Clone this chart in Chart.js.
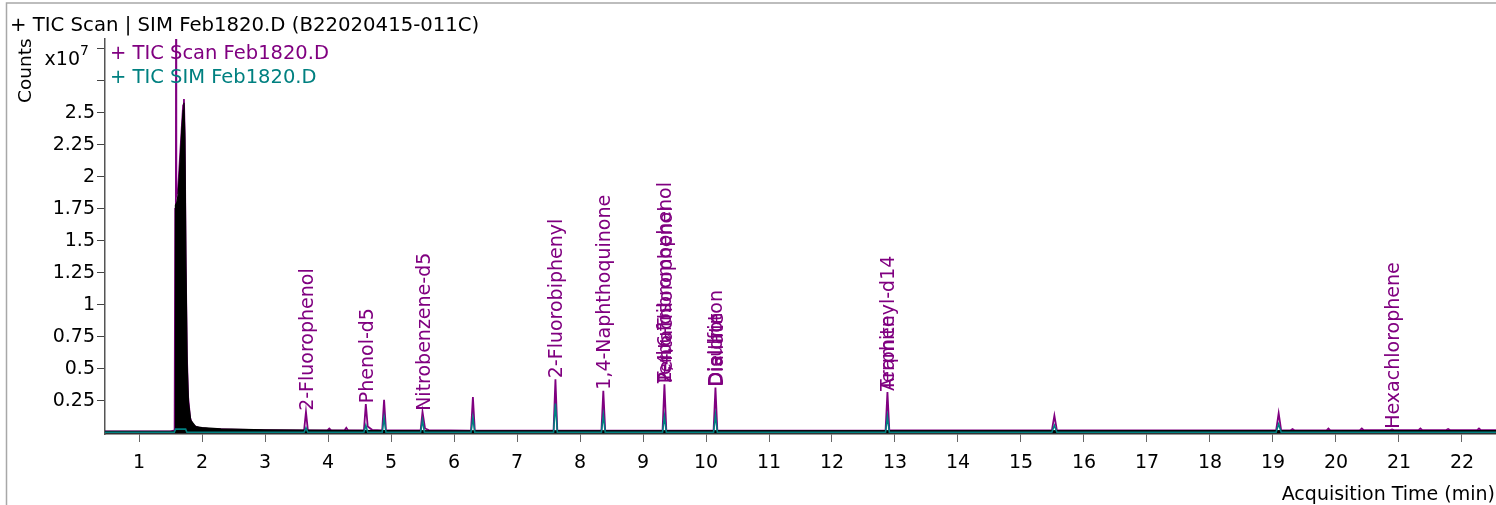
<!DOCTYPE html>
<html>
<head>
<meta charset="utf-8">
<script src="https://cdn.jsdelivr.net/npm/chart.js@4"></script>
<style>
  html, body { margin: 0; padding: 0; background: #fff; }
  canvas { display: block; }
</style>
</head>
<body>
<canvas id="tic" width="1496" height="505"></canvas>
<script>
/* ============================ Data ============================ */
// x10^7 counts vs acquisition time (min)
const xTicks = [1,2,3,4,5,6,7,8,9,10,11,12,13,14,15,16,17,18,19,20,21,22];
const yTicks = [0.25,0.5,0.75,1,1.25,1.5,1.75,2,2.25,2.5,2.75,3];

// TIC Scan (purple)
const scanTime = [
  0.46, 1.50, 1.565, 1.575, 1.585, 1.588, 1.592, 1.62, 1.65, 1.68, 1.70,
  1.713, 1.725, 1.74, 1.76, 1.78, 1.81, 1.85, 1.95, 2.1, 2.5, 3.0,
  3.62, 3.65, 3.68,  3.99, 4.02, 4.05,  4.26, 4.29, 4.32,
  4.57, 4.60, 4.63, 4.70,  4.86, 4.89, 4.92,  5.47, 5.50, 5.54, 5.60,
  6.27, 6.30, 6.33,  7.58, 7.61, 7.64,  8.34, 8.37, 8.40,
  9.31, 9.34, 9.37,  10.12, 10.15, 10.18,  12.85, 12.88, 12.91,
  15.49, 15.53, 15.57,  19.05, 19.09, 19.13,  19.28, 19.31, 19.34,
  19.85, 19.88, 19.91,  20.38, 20.41, 20.44,  20.86, 20.89, 20.92,
  21.31, 21.34, 21.37,  21.75, 21.78, 21.81,  22.24, 22.27, 22.30, 22.54
];
const scanCounts = [
  0.013, 0.013, 0.02, 1.75, 1.80, 3.5, 1.85, 1.90, 2.15, 2.40, 2.56,
  2.61, 2.35, 1.40, 0.60, 0.28, 0.12, 0.06, 0.04, 0.032, 0.026, 0.022,
  0.02, 0.165, 0.022,  0.02, 0.035, 0.02,  0.02, 0.04, 0.02,
  0.02, 0.225, 0.05, 0.025,  0.02, 0.26, 0.02,  0.02, 0.165, 0.035, 0.022,
  0.018, 0.28, 0.018,  0.018, 0.42, 0.018,  0.018, 0.33, 0.018,
  0.018, 0.38, 0.02,  0.018, 0.355, 0.02,  0.018, 0.32, 0.02,
  0.02, 0.135, 0.02,  0.02, 0.155, 0.02,  0.021, 0.03, 0.021,
  0.021, 0.035, 0.021,  0.022, 0.035, 0.022,  0.022, 0.028, 0.022,
  0.022, 0.035, 0.022,  0.022, 0.03, 0.022,  0.022, 0.035, 0.022, 0.022
];

// dense black overlay (solvent front)
const blackTime = [
  0.46, 1.56, 1.572, 1.578, 1.60, 1.62, 1.65, 1.68, 1.70, 1.713, 1.728,
  1.745, 1.765, 1.785, 1.82, 1.90, 2.0, 2.3, 3.0, 4.0, 5.0, 6.0, 22.54
];
const blackCounts = [
  0.012, 0.014, 0.02, 1.78, 1.80, 1.86, 2.10, 2.38, 2.52, 2.58, 2.30,
  1.30, 0.52, 0.24, 0.10, 0.05, 0.042, 0.032, 0.024, 0.021, 0.018, 0.017, 0.018
];

// TIC SIM (teal)
const simTime = [
  0.46, 1.56, 1.58, 1.74, 1.76,
  3.62, 3.65, 3.68,  4.57, 4.60, 4.63,  4.86, 4.89, 4.92,  5.47, 5.50, 5.53,
  6.27, 6.30, 6.33,  7.58, 7.61, 7.64,  8.34, 8.37, 8.40,  9.31, 9.34, 9.37,
  10.12, 10.15, 10.18,  12.85, 12.88, 12.91,  15.49, 15.53, 15.57,
  19.05, 19.09, 19.13,  22.54
];
const simCounts = [
  0.006, 0.006, 0.03, 0.03, 0.006,
  0.006, 0.04, 0.006,  0.006, 0.06, 0.006,  0.006, 0.12, 0.006,  0.006, 0.10, 0.006,
  0.006, 0.12, 0.006,  0.006, 0.23, 0.006,  0.006, 0.14, 0.006,  0.006, 0.13, 0.006,
  0.006, 0.14, 0.006,  0.006, 0.13, 0.006,  0.006, 0.06, 0.006,
  0.006, 0.07, 0.006,  0.006
];

// compound labels
const labelText = [
  "2-Fluorophenol", "Phenol-d5", "Nitrobenzene-d5", "2-Fluorobiphenyl",
  "1,4-Naphthoquinone", "2,4,6-Tribromophenol", "Pentachlorophenol", "Terbufos",
  "Dieldrin", "Diallate", "Disulfoton", "Terphenyl-d14", "Aramite", "Hexachlorophene"
];
const labelTime = [3.65, 4.60, 5.50, 7.61, 8.37, 9.34, 9.345, 9.335, 10.15, 10.155, 10.145, 12.88, 12.875, 20.89];
const labelHeight = [0.165, 0.225, 0.165, 0.42, 0.33, 0.38, 0.38, 0.38, 0.355, 0.355, 0.355, 0.32, 0.32, 0.025];

/* ============================ Helpers ============================ */
const FONT = '"DejaVu Sans", Verdana, sans-serif';
const PURPLE = "#800080";
const TEAL = "#008080";

function toPoints(xs, ys) {
  return xs.map((x, i) => ({x: x, y: ys[i]}));
}

/* ============================ Overlay plugin ============================ */
const decorations = {
  id: "decorations",
  afterDatasetsDraw(chart) {
    const ctx = chart.ctx;
    const xs = chart.scales.x, ys = chart.scales.y;
    ctx.save();
    // compound labels
    ctx.fillStyle = PURPLE;
    ctx.font = "19px " + FONT;
    ctx.textAlign = "left";
    ctx.textBaseline = "alphabetic";
    labelText.forEach((t, i) => {
      const px = xs.getPixelForValue(labelTime[i]);
      const py = ys.getPixelForValue(labelHeight[i]);
      ctx.save();
      ctx.translate(px + 7, py - 1);
      ctx.rotate(-Math.PI / 2);
      ctx.fillText(t, 0, 0);
      ctx.restore();
    });
    ctx.restore();
  },
  afterDraw(chart) {
    const ctx = chart.ctx;
    ctx.save();
    // frame
    ctx.strokeStyle = "#a8a8a8";
    ctx.lineWidth = 1.5;
    ctx.beginPath();
    ctx.moveTo(6.5, 505); ctx.lineTo(6.5, 3); ctx.lineTo(1496, 3);
    ctx.stroke();

    ctx.textBaseline = "alphabetic";
    ctx.textAlign = "left";
    ctx.font = "19.7px " + FONT;
    ctx.fillStyle = "#000";
    ctx.fillText("+ TIC Scan | SIM Feb1820.D (B22020415-011C)", 10, 31);

    ctx.font = "19.5px " + FONT;
    ctx.fillStyle = PURPLE;
    ctx.fillText("+ TIC Scan Feb1820.D", 110, 59);
    ctx.fillStyle = TEAL;
    ctx.fillText("+ TIC SIM Feb1820.D", 110, 83);

    // y title
    ctx.fillStyle = "#000";
    ctx.font = "18.5px " + FONT;
    ctx.save();
    ctx.translate(31, 103);
    ctx.rotate(-Math.PI / 2);
    ctx.fillText("Counts", 0, 0);
    ctx.restore();

    // exponent
    ctx.font = "19px " + FONT;
    ctx.textAlign = "right";
    ctx.fillText("x10", 80, 65);
    ctx.textAlign = "left";
    ctx.font = "14px " + FONT;
    ctx.fillText("7", 80, 55);

    // x title
    ctx.font = "19px " + FONT;
    ctx.textAlign = "right";
    ctx.fillText("Acquisition Time (min)", 1495, 500);
    ctx.restore();
  }
};

/* ============================ Chart ============================ */
new Chart(document.getElementById("tic"), {
  type: "line",
  data: {
    datasets: [
      {label: "TIC SIM Feb1820.D", data: toPoints(simTime, simCounts),
       borderColor: TEAL, borderWidth: 1.6, pointRadius: 0, fill: false},
      {label: "overlay", data: toPoints(blackTime, blackCounts),
       borderColor: "#000", backgroundColor: "#000", borderWidth: 1.2, pointRadius: 0, fill: "origin"},
      {label: "TIC Scan Feb1820.D", data: toPoints(scanTime, scanCounts),
       borderColor: PURPLE, borderWidth: 1.8, pointRadius: 0, fill: false}
    ]
  },
  options: {
    responsive: false,
    animation: false,
    devicePixelRatio: 1,
    layout: {padding: {top: 39, left: 0, right: 0, bottom: 0}},
    plugins: {legend: {display: false}, tooltip: {enabled: false}},
    elements: {line: {tension: 0}},
    scales: {
      x: {
        type: "linear", min: 0.46, max: 22.54,
        afterBuildTicks: sc => { sc.ticks = xTicks.map(v => ({value: v})); },
        afterFit: sc => { sc.height = 71; },
        ticks: {autoSkip: false, maxRotation: 0, color: "#000", padding: 10,
                font: {family: FONT, size: 19}},
        grid: {drawOnChartArea: false, drawTicks: true, tickLength: 8, color: "#666"},
        border: {color: "#333", width: 1.5}
      },
      y: {
        type: "linear", min: -0.008, max: 3.078,
        afterBuildTicks: sc => { sc.ticks = yTicks.map(v => ({value: v})); },
        afterFit: sc => { sc.width = 105; },
        ticks: {color: "#000", padding: 2, font: {family: FONT, size: 19},
                callback: v => (v >= 2.75 ? "" : String(v))},
        grid: {drawOnChartArea: false, drawTicks: true, tickLength: 8, color: "#444"},
        border: {color: "#555", width: 1.5}
      }
    }
  },
  plugins: [decorations]
});
</script>
</body>
</html>
